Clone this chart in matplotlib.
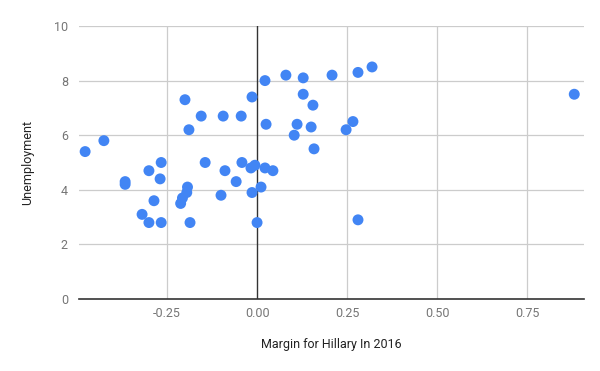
import matplotlib
matplotlib.use("Agg")
import matplotlib.pyplot as plt

plt.rcParams['font.family'] = ['Roboto', 'DejaVu Sans']

margin = [-0.477, -0.425, -0.366, -0.366, -0.300, -0.266, -0.269, -0.286, -0.319, -0.300,
          -0.266, -0.186, -0.212, -0.207, -0.195, -0.193, -0.200, -0.189, -0.155, -0.144,
          -0.089, -0.094, -0.044, -0.058, -0.100, -0.042, -0.014, -0.017, -0.006, -0.014,
          0.000, 0.011, 0.022, 0.044, 0.022, 0.025, 0.080, 0.128, 0.128, 0.155,
          0.111, 0.103, 0.150, 0.158, 0.208, 0.280, 0.319, 0.266, 0.247, 0.280, 0.880]
unemployment = [5.4, 5.8, 4.3, 4.2, 4.7, 5.0, 4.4, 3.6, 3.1, 2.8,
                2.8, 2.8, 3.5, 3.7, 3.9, 4.1, 7.3, 6.2, 6.7, 5.0,
                4.7, 6.7, 6.7, 4.3, 3.8, 5.0, 7.4, 4.8, 4.9, 3.9,
                2.8, 4.1, 4.8, 4.7, 8.0, 6.4, 8.2, 8.1, 7.5, 7.1,
                6.4, 6.0, 6.3, 5.5, 8.2, 8.3, 8.5, 6.5, 6.2, 2.9, 7.5]
x_ticks = [-0.25, 0.0, 0.25, 0.5, 0.75]
x_tick_labels = ['-0.25', '0.00', '0.25', '0.50', '0.75']
y_ticks = [0, 2, 4, 6, 8, 10]

fig = plt.figure(figsize=(6, 3.71), dpi=100)
ax = fig.add_axes([79/600, 1-299/371, 505/600, 273/371])

ax.set_xlim(-0.494, 0.907)
ax.set_ylim(0, 10)

for xt in x_ticks:
    if xt == 0:
        ax.axvline(xt, color='#333333', lw=1.0, zorder=1)
    else:
        ax.axvline(xt, color='#cccccc', lw=0.9, zorder=0)
for yt in y_ticks:
    if yt == 0:
        ax.axhline(yt, color='#333333', lw=1.2, zorder=1, clip_on=False)
    else:
        ax.axhline(yt, color='#cccccc', lw=0.9, zorder=0)

ax.scatter(margin, unemployment, s=62, color='#4285F4', edgecolors='none', zorder=3, clip_on=False)

for s in ax.spines.values():
    s.set_visible(False)
ax.set_xticks(x_ticks)
ax.set_xticklabels(x_tick_labels)
ax.set_yticks(y_ticks)
ax.tick_params(length=0, labelsize=9, labelcolor='#757575')
ax.tick_params(axis='x', pad=6)
ax.tick_params(axis='y', pad=8)

ax.set_xlabel('Margin for Hillary In 2016', fontsize=9, color='#222222', labelpad=13)
ax.set_ylabel('Unemployment', fontsize=9, color='#222222', labelpad=14)

fig.savefig('out.png', dpi=100)
